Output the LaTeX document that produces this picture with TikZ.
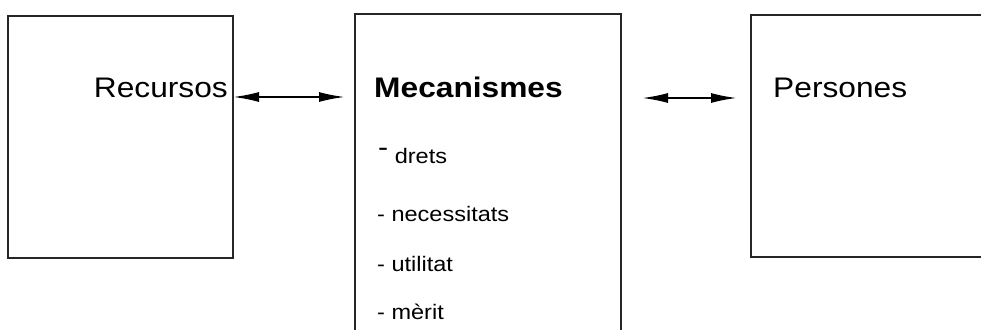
\documentclass[tikz,border=0pt]{standalone}
\usepackage{fontspec}
\setmainfont{Liberation Sans}
\usepackage{tikz}
\usetikzlibrary{arrows.meta, positioning}

\begin{document}
\begin{tikzpicture}[
    x=1pt, y=-1pt,
    box/.style={rectangle, draw=black!85, line width=1.4pt, inner sep=0pt, outer sep=0pt},
    big/.style={font=\fontsize{28.3}{32}\selectfont, xscale=1.12, inner sep=0pt},
    item/.style={font=\fontsize{21}{25}\selectfont, xscale=1.12, inner sep=0pt, anchor=base west},
    link/.style={{Latex[length=26pt,width=10pt]}-{Latex[length=26pt,width=10pt]}, line width=2pt}
]
\clip (0,0) rectangle (981,329);

\node (recbox) [box, minimum width=225pt, minimum height=242pt] at (120.5,137) {};
\node (mecbox) [box, minimum width=266pt, minimum height=346pt] at (488,187) {};
\node (perbox) [box, minimum width=260pt, minimum height=242pt] at (881,136) {};

\node (rec) [big, anchor=base east] at (228,97) {Recursos};
\node (mec) [big, anchor=base west, font=\fontsize{28.3}{32}\selectfont\bfseries] at (374,97) {Mecanismes};
\node (per) [big, anchor=base west] at (773,97) {Persones};

\node (i1) [item] at (378,163) {\raisebox{7pt}{\fontsize{27}{30}\selectfont -} drets};
\node (i2) [item] at (377,221) {- necessitats};
\node (i3) [item] at (377,271) {- utilitat};
\node (i4) [item] at (377,319) {- mèrit};

\coordinate (a1) at (345,97);
\coordinate (b0) at (642,98);
\coordinate (b1) at (737,98);

\draw [link] (recbox.east |- a1) -- (a1);
\draw [link] (b0) -- (b1);

\end{tikzpicture}
\end{document}
